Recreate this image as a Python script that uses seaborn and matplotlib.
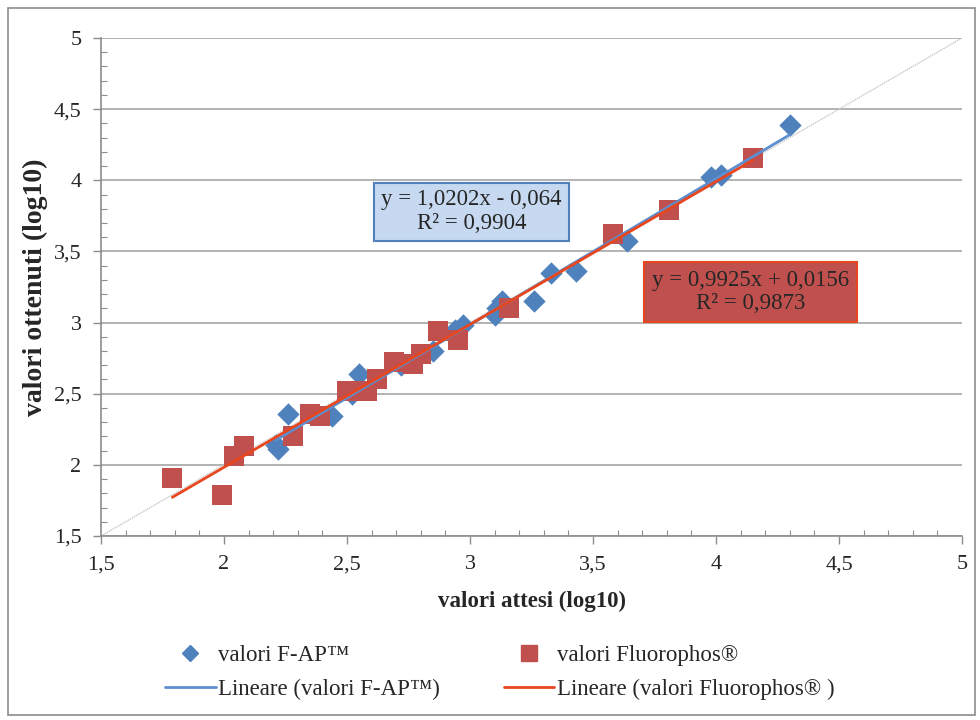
import matplotlib
matplotlib.use("Agg")
import matplotlib.pyplot as plt
import seaborn as sns
import pandas as pd
import numpy as np
from matplotlib.lines import Line2D
from matplotlib.patches import Rectangle
from matplotlib.ticker import MultipleLocator, FuncFormatter

# ---- data ----
fap_x = [2.21, 2.22, 2.26, 2.44, 2.52, 2.55, 2.72, 2.85, 2.94, 2.97,
         3.10, 3.11, 3.13, 3.26, 3.33, 3.43, 3.64, 3.98, 4.02, 4.30]
fap_y = [2.14, 2.11, 2.36, 2.34, 2.50, 2.64, 2.70, 2.80, 2.95, 2.98,
         3.05, 3.10, 3.15, 3.15, 3.35, 3.36, 3.57, 4.02, 4.04, 4.39]
flu_x = [1.79, 1.99, 2.04, 2.08, 2.28, 2.35, 2.39, 2.50, 2.58, 2.62,
         2.69, 2.77, 2.80, 2.87, 2.95, 3.16, 3.58, 3.81, 4.15]
flu_y = [1.91, 1.79, 2.06, 2.13, 2.20, 2.36, 2.34, 2.52, 2.52, 2.60,
         2.72, 2.71, 2.78, 2.94, 2.88, 3.10, 3.62, 3.79, 4.16]
diag = [1.5, 5.0]

label_fap = "valori F-AP™"
label_flu = "valori Fluorophos®"
label_fap_lin = "Lineare (valori F-AP™)"
label_flu_lin = "Lineare (valori Fluorophos® )"
eq_fap = "y = 1,0202x - 0,064\nR² = 0,9904"
eq_flu = "y = 0,9925x + 0,0156\nR² = 0,9873"

df_fap = pd.DataFrame({"x": fap_x, "y": fap_y})
df_flu = pd.DataFrame({"x": flu_x, "y": flu_y})

sns.set_theme(style="white")
plt.rcParams['font.family'] = ['Liberation Serif', 'DejaVu Serif']

blue = "#4F81BD"
red = "#C0504D"
blue_line = "#5B8FD0"
red_line = "#E8461E"

fig = plt.figure(figsize=(9.8, 7.2), dpi=100)
ax = fig.add_axes([101/980, 1 - 536/720, (962 - 101)/980, (536 - 38)/720])

# outer frame
fig.patches.append(Rectangle((8/980, 5/720), 967/980, 707/720, transform=fig.transFigure,
                             fill=False, edgecolor="#8C8C8C", linewidth=1.2))

# diagonal reference
ax.plot(diag, diag, color="#C8C8C8", linewidth=1.0, linestyle=(0, (1, 0.6)), zorder=1)

sns.scatterplot(data=df_fap, x="x", y="y", ax=ax, marker="D", s=130, color=blue,
                edgecolor=blue, linewidth=0, zorder=3)
sns.scatterplot(data=df_flu, x="x", y="y", ax=ax, marker="s", s=215, color=red,
                edgecolor=red, linewidth=0, zorder=4)
sns.regplot(data=df_fap, x="x", y="y", ax=ax, scatter=False, ci=None, truncate=True,
            line_kws=dict(color=blue_line, linewidth=2, zorder=5))
sns.regplot(data=df_flu, x="x", y="y", ax=ax, scatter=False, ci=None, truncate=True,
            line_kws=dict(color=red_line, linewidth=2, zorder=6))

ax.set_xlim(1.5, 5)
ax.set_ylim(1.5, 5)
ax.xaxis.set_major_locator(MultipleLocator(0.5))
ax.yaxis.set_major_locator(MultipleLocator(0.5))
ax.xaxis.set_minor_locator(MultipleLocator(0.1))
ax.yaxis.set_minor_locator(MultipleLocator(0.1))
fmt = FuncFormatter(lambda v, p: ("%g" % v).replace(".", ","))
ax.xaxis.set_major_formatter(fmt)
ax.yaxis.set_major_formatter(fmt)
ax.grid(axis="y", which="major", color="#A6A6A6", linewidth=1.2)
ax.grid(axis="x", visible=False)
ax.set_axisbelow(True)
for s in ["top", "right"]:
    ax.spines[s].set_visible(False)
for s in ["left", "bottom"]:
    ax.spines[s].set_color("#8C8C8C")
    ax.spines[s].set_linewidth(1.2)
ax.tick_params(which="major", direction="out", length=6, width=1, color="#8C8C8C",
               labelsize=16, left=True, bottom=True, pad=8, labelcolor="#262626")
ax.tick_params(which="minor", direction="in", length=4, width=0.8, color="#8C8C8C",
               left=True, bottom=True)

ax.set_xlabel("valori attesi (log10)", fontsize=16.5, fontweight="bold", labelpad=12)
ax.set_ylabel("valori ottenuti (log10)", fontsize=20, fontweight="bold", labelpad=4)

# equation boxes
ax.text(3.006, 3.78, eq_fap, ha="center", va="center", fontsize=16.5, linespacing=1.15,
        bbox=dict(boxstyle="square,pad=0.3", facecolor="#C6D9F1", edgecolor=blue, linewidth=1.5),
        zorder=7)
ax.text(4.14, 3.215, eq_flu, ha="center", va="center", fontsize=16.5, linespacing=1.15,
        bbox=dict(boxstyle="square,pad=0.35", facecolor=red, edgecolor=red_line, linewidth=1.5),
        zorder=7)

handles = [
    Line2D([], [], marker="D", linestyle="none", color=blue, markersize=8),
    Line2D([], [], color=blue_line, linewidth=2),
    Line2D([], [], marker="s", linestyle="none", color=red, markersize=11),
    Line2D([], [], color=red_line, linewidth=2),
]
labels = [label_fap, label_fap_lin, label_flu, label_flu_lin]
fig.legend(handles, labels, ncol=2, loc="center", bbox_to_anchor=(0.51, 0.066),
           frameon=False, fontsize=16.5, handlelength=2.2, handletextpad=0.1,
           columnspacing=2.8, labelspacing=0.6)

fig.savefig("out.png", dpi=100)
